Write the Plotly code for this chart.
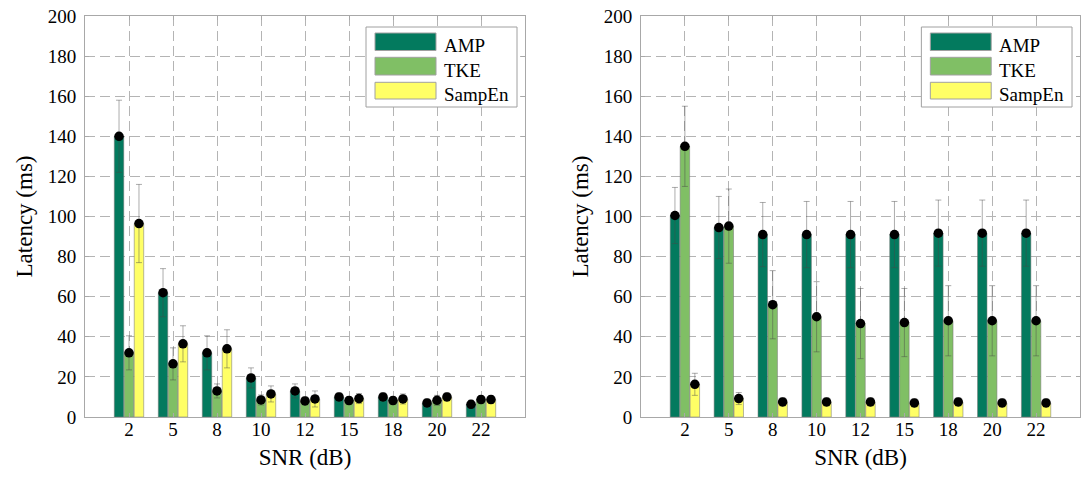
import plotly.graph_objects as go

# ---------------- data ----------------
snr_labels = ["2", "5", "8", "10", "12", "15", "18", "20", "22"]
series_names = ["AMP", "TKE", "SampEn"]

# left panel: mean latency (ms) and std
left_amp = [140, 62, 32, 19.5, 13, 10, 10, 7, 6.3]
left_tke = [32, 26.5, 13, 8.5, 8, 8.2, 8.2, 8.3, 8.7]
left_samp = [96.5, 36.5, 34, 11.5, 9, 9.2, 9, 10, 8.7]
left_amp_sd = [18, 12, 8.5, 5, 3.5, 2, 2, 2, 2]
left_tke_sd = [8.5, 8, 3.5, 2.5, 2, 2, 2, 2.5, 2]
left_samp_sd = [19.5, 9, 9.5, 4, 4, 2.5, 2.5, 2, 2]

# right panel
right_amp = [100.5, 94.5, 91, 91, 91, 91, 91.7, 91.7, 91.7]
right_tke = [135, 95.2, 56, 50, 46.6, 47.1, 48, 48, 48]
right_samp = [16.3, 9.2, 7.5, 7.5, 7.5, 7, 7.5, 7, 7]
right_amp_sd = [14, 15.5, 16, 16.5, 16.5, 16.5, 16.5, 16.5, 16.5]
right_tke_sd = [20, 18.5, 17, 17.5, 17.5, 17, 17.5, 17.5, 17.5]
right_samp_sd = [5.5, 3, 2, 2, 2, 2, 2, 2, 2]

y_ticks = [0, 20, 40, 60, 80, 100, 120, 140, 160, 180, 200]

# ---------------- style ----------------
colors = ["#037a5e", "#80bf65", "#ffff66"]
FONT = "Liberation Serif"
W, H = 1081, 477
BARGAP = 0.32
slot = (1 - BARGAP) / 3
xpos = list(range(1, len(snr_labels) + 1))

fig = go.Figure()

panels = [
    ("x", "y", [left_amp, left_tke, left_samp], [left_amp_sd, left_tke_sd, left_samp_sd]),
    ("x2", "y2", [right_amp, right_tke, right_samp], [right_amp_sd, right_tke_sd, right_samp_sd]),
]

for xa, ya, vals, sds in panels:
    for k, (name, v, sd) in enumerate(zip(series_names, vals, sds)):
        fig.add_trace(go.Bar(
            x=xpos, y=v, name=name, xaxis=xa, yaxis=ya, showlegend=False,
            offsetgroup=str(k),
            marker=dict(color=colors[k], line=dict(color="rgba(120,120,120,0.9)", width=0.6)),
            error_y=dict(type="data", array=sd, visible=True,
                         color="rgba(70,70,70,0.45)", thickness=1, width=3),
        ))
    for k, v in enumerate(vals):
        fig.add_trace(go.Scatter(
            x=[p + (k - 1) * slot for p in xpos], y=v, mode="markers",
            xaxis=xa, yaxis=ya, showlegend=False, hoverinfo="skip",
            marker=dict(color="black", size=9.5),
        ))

axis_common = dict(
    showline=True, linecolor="#a8a8a8", linewidth=1, mirror="ticks",
    ticks="inside", ticklen=4, tickcolor="#a8a8a8",
    showgrid=True, gridcolor="#b4b4b4", gridwidth=1, griddash="10px,5px",
    zeroline=False, tickfont=dict(family=FONT, size=19, color="black"),
    automargin=False,
)

dom1 = [85 / W, 525 / W]
dom2 = [641 / W, 1080 / W]
title_font = dict(family=FONT, size=23, color="black")

fig.update_layout(
    width=W, height=H,
    margin=dict(l=0, r=0, t=16, b=60),
    paper_bgcolor="white", plot_bgcolor="white",
    barmode="group", bargap=BARGAP, bargroupgap=0.05,
    font=dict(family=FONT, color="black"),
    xaxis=dict(domain=dom1, range=[0, 10], tickvals=xpos, ticktext=snr_labels,
               title=dict(text="SNR (dB)", font=title_font, standoff=10),
               ticklabelstandoff=-5, anchor="y", **axis_common),
    yaxis=dict(domain=[0, 1], range=[0, 200], tickvals=y_ticks,
               title=dict(text="Latency (ms)", font=title_font, standoff=8),
               ticklabelstandoff=4, anchor="x", **axis_common),
    xaxis2=dict(domain=dom2, range=[0, 10], tickvals=xpos, ticktext=snr_labels,
                title=dict(text="SNR (dB)", font=title_font, standoff=10),
                ticklabelstandoff=-5, anchor="y2", **axis_common),
    yaxis2=dict(domain=[0, 1], range=[0, 200], tickvals=y_ticks,
                title=dict(text="Latency (ms)", font=title_font, standoff=8),
                ticklabelstandoff=4, anchor="x2", **axis_common),
)

# ---------------- custom legend (wide swatches like the original) ----------------
PW, PH = 440.0, 401.0  # approximate plot area size in px


def fx(px):
    return px / PW


def fy(py):
    return 1 - py / PH


swatch_rows = [(17, 34.5), (41.3, 59), (66.3, 83)]  # top/bottom px from plot top
text_rows = [29, 54, 78]

for xa in ["x", "x2"]:
    ya = "y" if xa == "x" else "y2"
    xr, yr = xa + " domain", ya + " domain"
    fig.add_shape(type="rect", xref=xr, yref=yr,
                  x0=fx(281), x1=fx(432), y0=fy(91), y1=fy(11),
                  fillcolor="white", line=dict(color="#a0a0a0", width=1), layer="above")
    for k, name in enumerate(series_names):
        t, b = swatch_rows[k]
        fig.add_shape(type="rect", xref=xr, yref=yr,
                      x0=fx(290), x1=fx(351), y0=fy(b), y1=fy(t),
                      fillcolor=colors[k], line=dict(color="#a0a0a0", width=1), layer="above")
        fig.add_annotation(xref=xr, yref=yr, x=fx(357), y=fy(text_rows[k]),
                           text=name, showarrow=False, xanchor="left", yanchor="middle",
                           font=dict(family=FONT, size=19, color="black"))

fig.write_html("out.html", config={"displayModeBar": False},
               post_script="document.body.style.margin='0';document.body.style.overflow='hidden';")
